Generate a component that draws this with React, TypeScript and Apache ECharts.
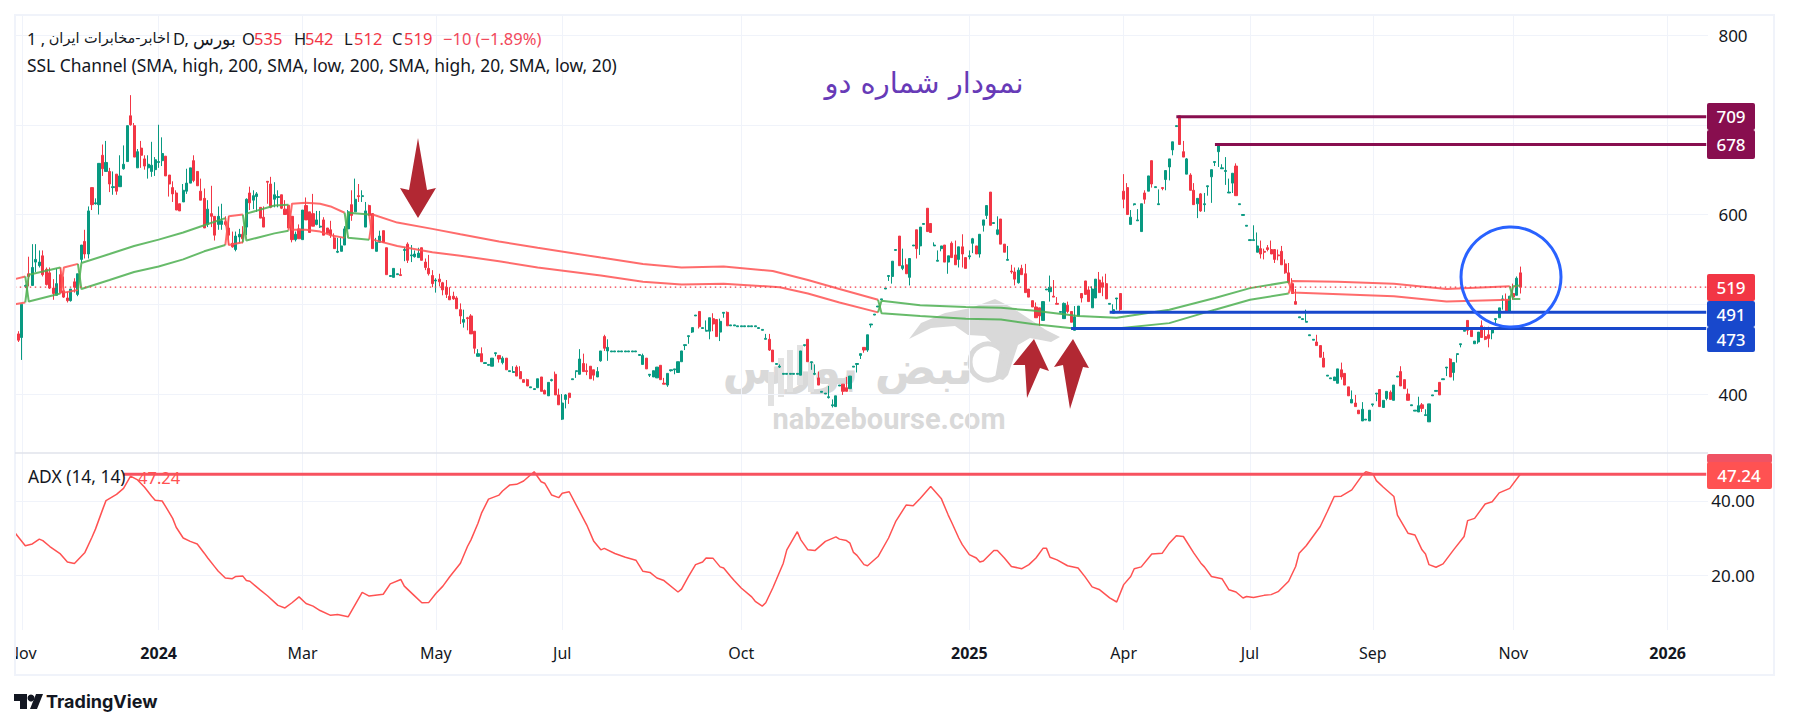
import { useEffect, useRef } from 'react'
import * as echarts from 'echarts'

const FONT = '"Noto Sans", sans-serif'
const UP = '#089981'
const DOWN = '#F23645'

// [open, close, low, high], one row per trading day
const candles: number[][] = [
  [426,450,426,450],[467,460,458,470],[463,500,438,500],[520,521,518,522],[534,531,520,553],[521,541,521,567],[547,550,536,567],[543,547,541,560],
  [554,533,531,560],[539,522,521,541],[535,518,517,541],[518,512,505,528],[510,523,510,540],[533,513,512,541],[515,508,507,531],[507,504,502,514],
  [504,517,503,517],[525,519,513,529],[511,534,509,534],[550,566,546,566],[570,556,551,583],[556,604,551,609],[630,611,605,630],[612,613,611,618],
  [611,657,600,657],[666,651,643,678],[648,658,648,682],[648,634,625,652],[630,631,622,648],[645,626,622,645],[631,643,631,666],[651,656,650,677],
  [659,699,659,699],[710,700,699,733],[699,664,664,702],[652,670,652,673],[674,666,652,682],[662,654,650,666],[652,656,640,666],[648,655,642,681],
  [650,661,643,664],[658,659,652,700],[660,668,654,686],[665,643,643,665],[644,634,620,644],[630,623,614,637],[624,605,605,627],[612,604,604,612],
  [614,627,614,634],[626,635,623,651],[635,652,635,652],[660,638,636,666],[648,632,632,648],[626,616,616,640],[618,585,585,629],[589,606,586,616],
  [601,598,586,632],[598,577,571,598],[589,598,583,609],[589,593,583,612],[592,589,587,598],[585,577,566,598],[568,564,563,581],[561,576,559,581],
  [575,578,568,584],[578,573,568,587],[586,617,577,618],[624,613,605,631],[616,621,606,627],[620,623,603,625],[608,596,596,608],[597,586,586,609],
  [637,636,612,637],[634,608,607,642],[617,622,608,636],
  [619,620,608,627],[622,607,606,622],[606,600,600,616],[610,585,585,610],[598,572,569,598],[572,578,570,581],[584,573,573,589],[572,605,572,605],
  [610,594,594,619],[603,580,580,603],[601,587,587,623],[589,594,588,604],[586,587,585,604],[594,577,577,597],[585,579,579,585],[583,577,574,593],
  [574,562,562,579],[558,559,557,574],[559,565,559,574],[566,584,566,587],[584,603,584,605],[611,599,593,627],[603,617,603,640],[621,620,614,634],
  [620,621,614,627],[586,604,586,614],[610,599,599,611],[601,562,562,601],[559,569,559,574],[569,576,569,582],[582,569,569,582],[563,533,533,563],
  [531,532,531,532],[530,540,530,540],[533,534,533,534],[533,532,532,540],[560,561,548,564],[567,549,546,569],[554,555,547,566],[553,556,552,560],
  [552,557,552,563],[563,549,549,563],[547,541,538,551],[540,534,532,555],[532,523,519,538],[526,527,513,529],[528,525,520,534],[524,516,510,525],
  [519,511,507,527],[509,505,505,519],[509,506,505,514],[507,495,495,509],[494,487,478,501],[480,483,474,494],[485,484,471,486],[487,467,467,489],
  [470,451,445,470],[442,445,442,450],[445,436,436,452],[434,435,434,435],[432,433,432,433],[431,440,431,440],[445,446,442,446],[443,439,435,443],
  [435,440,433,442],[440,427,427,440],[425,426,425,426],[424,425,424,431],[430,420,420,432],[425,417,417,431],[416,413,413,416],[416,409,409,417],
  [407,408,407,408],[405,406,405,406],[407,417,407,417],
  [419,403,403,419],[404,400,400,405],[398,413,398,413],[415,416,414,417],[422,399,399,425],[399,388,388,406],[372,390,371,400],[394,399,384,400],
  [401,396,389,401],[416,417,416,417],[425,426,418,426],[422,439,422,450],[434,425,425,445],[426,425,421,434],[431,417,417,431],[427,421,415,427],
  [419,425,419,430],[437,448,436,448],[464,451,448,466],[448,452,437,461],[447,448,447,448],[447,448,447,448],[447,448,447,448],[447,448,447,448],
  [447,448,447,448],[447,448,447,448],[447,448,447,448],[447,448,447,448],[443,444,443,444],[433,443,433,445],[440,428,428,440],[421,422,419,422],
  [419,426,419,426],[418,430,418,430],[432,416,416,432],[412,411,411,418],[410,423,408,423],[426,427,425,427],[427,428,422,428],[424,436,424,436],
  [436,448,436,448],[454,455,449,455],[464,465,456,465],[469,474,468,474],[487,488,487,488],[492,475,473,492],[473,474,473,474],[470,471,470,482],
  [470,485,461,485],[484,478,470,490],[483,464,464,483],[469,481,459,484],[490,491,485,491],[491,476,476,492],[476,477,476,477],[476,477,476,477],
  [475,476,475,476],[475,476,475,476],[475,476,475,476],[475,476,475,476],[475,476,475,476],[475,476,475,476],[473,474,473,474],[471,472,471,472],
  [461,462,461,467],[461,449,448,467],[449,436,436,449],[433,434,433,434],[430,431,429,433],[422,423,422,423],[422,423,422,423],[422,423,422,423],
  [422,423,422,423],[422,423,422,423],[421,448,421,448],
  [454,455,453,455],[461,436,436,461],[435,436,427,436],[422,423,421,433],[418,410,410,425],[402,403,402,403],[400,401,400,401],[396,397,395,409],
  [387,388,385,394],[386,398,386,398],[409,410,409,410],[411,403,399,411],[407,403,403,419],[406,420,406,420],[430,431,430,431],[433,434,424,434],
  [443,445,439,445],[452,449,446,452],[449,466,447,466],[477,478,474,478],[488,489,488,489],[497,498,497,498],[505,506,505,506],[517,518,517,518],
  [531,532,526,532],[531,548,523,548],[560,561,560,561],[576,543,543,576],[540,543,538,562],[544,534,534,551],[530,551,521,551],[565,566,565,566],
  [583,562,551,583],[565,586,555,586],[589,590,589,590],[607,581,581,607],[590,580,580,590],[565,566,565,569],[548,549,548,560],[562,565,559,565],
  [566,547,547,566],[547,554,534,554],[568,552,552,570],[555,544,544,571],[550,564,541,564],[564,556,541,578],[552,540,540,552],[553,554,550,560],
  [568,573,557,574],[565,556,556,565],[556,578,552,578],[588,594,581,594],[599,610,595,610],[625,588,588,625],[590,591,590,591],[578,583,577,598],
  [595,567,567,595],[567,558,558,567],[549,550,549,565],[537,536,534,544],[536,528,521,541],[524,538,523,541],[540,533,533,544],[534,513,513,545],
  [517,508,508,517],[504,497,497,504],[497,485,485,502],[496,487,476,496],[482,503,482,503],[516,517,516,517],[514,519,503,532],[509,508,508,527],
  [501,500,500,508],[491,492,491,492],
  [484,501,484,502],[499,492,490,503],[492,480,480,492],[471,486,471,498],[487,498,487,498],[512,507,502,512],[526,511,511,526],[516,503,503,520],
  [496,517,496,520],[507,528,507,528],[527,513,513,536],[524,519,509,531],[523,506,506,534],[500,501,500,501],[490,494,490,500],[506,507,494,507],
  [512,494,491,512],[626,617,607,645],[630,600,600,635],[589,597,589,605],[611,612,610,612],[593,594,593,606],[581,612,581,612],[624,617,612,627],
  [626,643,626,643],[660,634,630,660],[630,631,630,631],[611,612,611,628],[630,629,627,630],[639,649,627,649],[653,662,638,662],[672,681,666,681],
  [698,699,698,699],[710,678,678,710],[670,664,664,682],[645,662,645,663],[644,627,627,646],[627,611,611,635],[612,618,596,618],[623,604,603,624],
  [611,612,603,624],[631,632,621,632],[642,650,613,650],[658,659,654,659],[670,677,653,678],[651,652,651,656],[648,649,633,664],[624,625,624,640],
  [635,646,624,646],[654,621,621,657],[611,612,611,612],[599,600,599,600],[587,588,587,588],[571,572,571,572],[571,572,571,588],[558,565,558,580],
  [562,556,551,571],[559,558,550,562],[563,561,559,566],[561,556,556,571],[561,550,546,561],[555,554,549,561],[559,544,544,565],[545,535,534,550],
  [535,524,523,546],[523,512,512,529],[503,500,500,517],[485,486,485,486],[483,484,483,484],[480,481,480,494],[465,466,465,466],[460,461,460,461],
  [458,454,454,466],[454,441,441,454],[440,430,430,447],
  [420,421,420,421],[417,418,417,418],[415,419,415,419],[412,428,412,428],[427,419,416,435],[423,410,410,423],[408,398,398,408],[390,394,390,404],
  [390,386,386,399],[382,378,378,382],[370,383,370,391],[371,372,371,372],[370,382,370,382],[388,389,386,389],[400,401,392,401],[405,386,386,405],
  [385,393,385,393],[395,403,393,403],[402,394,394,404],[393,410,393,410],[419,420,419,420],[425,409,409,431],[416,406,406,416],[400,393,393,406],
  [387,388,387,388],[381,382,381,382],[380,387,380,397],[388,384,380,390],[376,377,376,383],[369,389,369,389],[398,399,398,399],[403,404,403,404],
  [413,399,399,413],[416,417,416,417],[429,430,420,430],[439,419,419,440],[424,435,415,435],[444,445,435,445],[455,456,452,456],[470,471,470,471],
  [482,471,466,482],[471,464,464,471],[456,459,456,459],[458,469,456,469],[476,463,463,482],[464,461,460,475],[466,462,452,475],[468,473,461,473],
  [483,484,479,484],[485,496,485,496],[505,506,494,510],[505,491,491,512],[491,509,491,509],[512,508,505,523],[510,529,510,531],[535,519,512,542],
]

const BAR_COUNT = 483 // bars plus the empty future space on the right
const categories = Array.from({ length: BAR_COUNT }, (_, i) => String(i))

const tickBars = [2, 41, 82, 120, 156, 207, 272, 316, 352, 387, 427, 471]
const tickLabels = ['Nov', '2024', 'Mar', 'May', 'Jul', 'Oct', '2025', 'Apr', 'Jul', 'Sep', 'Nov', '2026']

const priceGridValues = [400, 500, 600, 700, 800]
const priceLabelValues = [400, 600, 800]
const adxLabelValues = [20, 40]

// SSL channel, [bar, price]
const sslRed: number[][][] = [
  [[0,528],[3,531]],
  [[0,500],[3,502]],
  [[13,541],[14,513],[18,516]],
  [[13,512],[14,541],[18,545]],
  [[60,596],[61,566],[65,569]],
  [[60,566],[61,598],[65,600]],
  [[78,611],[79,583],[83,583],[87,581],[90,577],[94,574]],
  [[78,582],[79,612],[83,613],[87,612],[90,609],[94,602]],
  [[101,600],[102,572],[109,565],[119,558],[127,554],[138,548],[149,541],[167,532],[179,525],[190,522],[202,523],[218,519],[226,512],[235,502],[246,491]],
  [[101,572],[102,600],[109,591],[119,584],[127,578],[138,570],[149,563],[167,552],[179,545],[190,541],[202,542],[216,537],[226,527],[235,517],[246,505]],
  [[363,525],[364,513],[393,509],[408,503],[426,505]],
  [[363,512],[364,526],[377,525],[393,523],[408,517],[426,520]],
]
const sslGreen: number[][][] = [
  [[3,531],[4,503],[13,512]],
  [[3,502],[4,533],[13,541]],
  [[18,545],[19,517],[27,527],[34,536],[41,542],[48,550],[54,559],[60,566]],
  [[18,516],[19,546],[27,556],[34,565],[41,572],[48,580],[54,588],[60,596]],
  [[65,600],[66,571],[74,579],[78,582]],
  [[65,569],[66,601],[74,610],[78,611]],
  [[94,602],[95,574],[101,572]],
  [[94,574],[95,602],[101,600]],
  [[246,505],[247,490],[258,487],[271,484],[281,483],[290,478],[302,473],[314,473],[329,479],[342,494],[352,505],[363,512]],
  [[246,491],[247,504],[258,499],[271,497],[281,496],[290,493],[303,487],[314,485],[329,494],[342,507],[352,518],[363,525]],
  [[426,520],[427,506],[429,506]],
  [[426,505],[427,520],[429,521]],
]

const adxBars = [
  0,3,5,7,8,10,13,15,17,20,22,23,25,26,29,31,33,35,37,39,40,42,43,45,46,48,50,52,54,55,57,58,60,62,63,65,66,67,70,72,75,77,79,81,83,85,87,90,92,95,
  97,99,101,105,107,110,111,114,116,118,120,122,124,127,129,130,132,133,135,138,139,141,143,145,148,150,151,153,155,156,158,160,163,165,167,168,171,174,177,179,181,183,185,189,190,192,194,196,197,199,
  201,202,204,205,207,210,211,213,214,216,217,219,220,223,224,226,228,231,232,234,235,237,238,239,240,242,243,246,249,251,254,256,258,261,264,266,267,269,270,272,274,275,276,279,280,282,284,287,289,291,
  293,294,295,297,300,303,305,307,309,312,314,316,318,319,321,324,327,329,331,333,336,338,339,341,344,346,348,350,351,353,356,358,360,363,365,366,368,372,374,376,378,381,384,385,387,388,390,393,394,397,
  399,401,402,403,405,407,410,413,414,416,419,421,423,426,429,
]
const adxValues = [
  31.5,27.9,28.4,29.7,29.3,27.7,25.7,23.5,23.1,26.1,30.2,32.4,37.6,40.1,41.8,43.4,46.7,45.7,43.7,41.3,40.2,40,38.5,35.3,32.9,30,29.1,28.4,25.9,24.6,22.2,21,19.2,19,19.6,19.7,18.5,18.3,15.9,14.4,11.8,11.1,12.5,14.1,12.3,11.6,10.4,9.1,9.3,8.7,
  12,15.3,14.3,14.8,17.6,18.8,17,14.3,12.5,12.6,15,17,19.6,23.2,27.7,29.5,34,36.7,40.5,41.6,42.7,44.3,44.5,45.4,47.9,45.2,44.8,41.6,40.9,42.1,42.5,38.9,33.5,29.1,26.8,27.2,25.8,24.8,24,21,20.7,19.2,18.5,15.4,16.2,19.6,22.8,23.5,24.6,24.5,
  22.2,21.9,19.6,18.5,16.5,14.1,12.9,11.6,12.5,16.5,18.7,23.2,26.8,31.7,29.5,26.8,26.6,29.1,29.5,30.3,29.7,29.3,28.6,26.1,25.3,22.8,22.5,25,30,34.4,38.9,38.7,40.7,43.9,40.7,36.2,34.2,30,28.2,25.5,24.6,23.5,23.8,26.6,26.6,24.6,22.3,21.7,22.8,24.6,
  27.2,27.2,24.8,24.1,22.5,21.9,19.5,16.8,16.1,13.8,12.7,17.4,19.6,21.7,22.2,25.7,25.9,28.6,30.6,30.4,25.9,23.2,22.2,19.6,19,16,15.4,13.8,14.2,13.9,14.5,14.7,15.5,18.3,22.3,25.9,27.9,33.1,37.1,41.2,41.3,43,47,47.9,47.4,45.5,43.7,41.2,36.2,31.3,
  30.8,26.8,25.7,22.8,22.1,23,26.8,30.4,34.7,35.3,39.2,39.8,42.2,43.4,47.24,
]

// horizontal levels: [first bar, price]
const maroonLevels = [[331, 709], [342, 678]]
const blueLevels = [[312, 491], [301, 473]]
const adxLevel = [31, 47.24]
const lastClose = 519

const priceTags = [
  { text: '709', top: 103, height: 27, color: '#880E4F' },
  { text: '678', top: 130, height: 29, color: '#880E4F' },
  { text: '519', top: 274, height: 27, color: '#F23645' },
  { text: '491', top: 301, height: 26, color: '#1848CC' },
  { text: '473', top: 327, height: 25, color: '#1848CC' },
]

const legendPieces = [
  { text: '1 ,', x: 27, color: '#131722' },
  { text: 'D,', x: 173, color: '#131722' },
  { text: 'بورس', x: 193, color: '#131722' },
  { text: 'O', x: 242, color: '#131722' },
  { text: '535', x: 254, color: DOWN },
  { text: 'H', x: 294, color: '#131722' },
  { text: '542', x: 305, color: DOWN },
  { text: 'L', x: 344, color: '#131722' },
  { text: '512', x: 354, color: DOWN },
  { text: 'C', x: 392, color: '#131722' },
  { text: '519', x: 404, color: DOWN },
  { text: '−10 (−1.89%)', x: 443, color: '#F2495C' },
]

// watermark bars behind the chart: [x, top, bottom]
const watermarkBars = [[771, 372, 406], [781, 358, 397], [790, 350, 392], [800, 345, 385], [811, 362, 392]]

const bullOutline = [
  [909,339],[921,323],[945,313],[971,308],[995,299],[1011,307],[1031,320],[1046,330],[1060,337],[1051,342],[1030,338],[1018,345],[1008,375],
  [1003,380],[995,378],[1000,350],[985,336],[968,335],[955,326],[931,328],
]

const arrows = [
  [[418,138],[427,190],[436,188],[418,218],[400,188],[409,190]],
  [[1034,339],[1049,371],[1040,368],[1027,398],[1025,365],[1013,365]],
  [[1073,339],[1089,368],[1083,367],[1070,409],[1063,365],[1054,367]],
]

function levelSeries(first: number[], color: string, xAxisIndex: number, yAxisIndex: number) {
  return {
    type: 'line',
    xAxisIndex,
    yAxisIndex,
    symbol: 'none',
    z: 6,
    silent: true,
    lineStyle: { color, width: 3 },
    data: [first, [BAR_COUNT - 1, first[1]]],
  }
}

function sslSeries(points: number[][], color: string) {
  return {
    type: 'line',
    xAxisIndex: 0,
    yAxisIndex: 0,
    symbol: 'none',
    z: 4,
    silent: true,
    lineStyle: { color, width: 2, opacity: 0.85 },
    data: points,
  }
}

function buildGraphics() {
  const text = (style: any, z = 40) => ({ type: 'text', z, silent: true, style: { fontFamily: FONT, ...style } })
  const els: any[] = [
    { type: 'rect', z: 30, silent: true, shape: { x: 0, y: 0, width: 14, height: 728 }, style: { fill: '#fff' } },
    { type: 'rect', z: 31, silent: true, shape: { x: 15, y: 15, width: 1759, height: 660 }, style: { fill: 'none', stroke: '#F0F3FA', lineWidth: 2 } },
    { type: 'line', z: 31, silent: true, shape: { x1: 15, y1: 453, x2: 1708, y2: 453 }, style: { stroke: '#E0E3EB', lineWidth: 1.5 } },
    { type: 'polygon', z: 0, silent: true, shape: { points: bullOutline }, style: { fill: '#D9D9D9' } },
    { type: 'circle', z: 0, silent: true, shape: { cx: 988, cy: 362, r: 18 }, style: { fill: 'none', stroke: '#D9D9D9', lineWidth: 5 } },
    text({ x: 848, y: 368, text: 'نبض بورس', fontSize: 46, fontWeight: 'bold', fill: '#D9D9D9', align: 'center', verticalAlign: 'middle', fontFamily: '"DejaVu Sans"' }, 0),
    text({ x: 889, y: 419, text: 'nabzebourse.com', fontSize: 29, fontWeight: 'bold', fill: '#D9D9D9', align: 'center', verticalAlign: 'middle', fontFamily: 'Roboto' }, 0),
    text({ x: 924, y: 83, text: 'نمودار شماره دو', fontSize: 29, fill: '#673AB7', align: 'center', verticalAlign: 'middle', fontFamily: '"DejaVu Sans"' }),
    text({ x: 27, y: 65, text: 'SSL Channel (SMA, high, 200, SMA, low, 200, SMA, high, 20, SMA, low, 20)', fontSize: 17.4, fill: '#131722', verticalAlign: 'middle' }),
    text({ x: 170, y: 38, text: 'اخابر-مخابرات ایران', fontSize: 14.5, fill: '#131722', align: 'right', verticalAlign: 'middle', fontFamily: '"DejaVu Sans"' }),
    text({ x: 28, y: 476, text: 'ADX (14, 14)', fontSize: 17.4, fill: '#131722', verticalAlign: 'middle' }),
    text({ x: 138, y: 477, text: '47.24', fontSize: 16.5, fill: '#FF5252', verticalAlign: 'middle' }),
    { type: 'circle', z: 41, silent: true, shape: { cx: 1511, cy: 277, r: 50 }, style: { fill: 'none', stroke: '#2962FF', lineWidth: 3 } },
    { type: 'rect', z: 42, silent: true, shape: { x: 1707, y: 454, width: 65, height: 9, r: 2 }, style: { fill: '#F05364' } },
    { type: 'rect', z: 43, silent: true, shape: { x: 1707, y: 462, width: 65, height: 27, r: 2 }, style: { fill: '#FF5252' } },
    text({ x: 1739, y: 475, text: '47.24', fontSize: 17, fontWeight: 500, fill: '#fff', align: 'center', verticalAlign: 'middle' }, 44),
    text({ x: 46, y: 701, text: 'TradingView', fontSize: 18, fontWeight: 'bold', fill: '#131722', verticalAlign: 'middle', fontFamily: 'Inter' }),
    { type: 'polygon', z: 40, silent: true, shape: { points: [[14,694],[27,694],[27,709],[20,709],[20,701],[14,701]] }, style: { fill: '#131722' } },
    { type: 'circle', z: 40, silent: true, shape: { cx: 31, cy: 698, r: 3.5 }, style: { fill: '#131722' } },
    { type: 'polygon', z: 40, silent: true, shape: { points: [[36,694],[43,694],[37,709],[30,709]] }, style: { fill: '#131722' } },
  ]
  watermarkBars.forEach(([x, top, bottom]) => {
    els.push({ type: 'rect', z: 0, silent: true, shape: { x: x - 3, y: top, width: 6, height: bottom - top }, style: { fill: '#E2E2E2' } })
  })
  arrows.forEach((points) => {
    els.push({ type: 'polygon', z: 35, silent: true, shape: { points }, style: { fill: '#B22833' } })
  })
  legendPieces.forEach((p) => {
    els.push(text({ x: p.x, y: 38, text: p.text, fontSize: 16.5, fill: p.color, verticalAlign: 'middle' }))
  })
  priceTags.forEach((t) => {
    els.push({ type: 'rect', z: 42, silent: true, shape: { x: 1707, y: t.top, width: 48, height: t.height, r: 2 }, style: { fill: t.color } })
    els.push(text({ x: 1731, y: t.top + t.height / 2, text: t.text, fontSize: 17, fontWeight: 500, fill: '#fff', align: 'center', verticalAlign: 'middle' }, 44))
  })
  return els
}

export default function App() {
  const chartRef = useRef<HTMLDivElement>(null)

  useEffect(() => {
    if (!chartRef.current) return
    document.body.style.margin = '0'
    const instance = echarts.init(chartRef.current, undefined, { renderer: 'svg' })
    const tickSet = new Set(tickBars)
    const gridLine = { show: true, interval: (i: number) => tickSet.has(i), alignWithLabel: true, lineStyle: { color: '#F0F3FA', width: 1 } }

    instance.setOption({
      animation: false,
      backgroundColor: '#fff',
      grid: [
        { left: 13, top: 15, width: 1695, height: 438 },
        { left: 13, top: 453, width: 1695, height: 177 },
      ],
      xAxis: [
        {
          type: 'category',
          gridIndex: 0,
          data: categories,
          axisLine: { show: false },
          axisTick: { show: false, alignWithLabel: true },
          axisLabel: { show: false },
          splitLine: gridLine,
        },
        {
          type: 'category',
          gridIndex: 1,
          data: categories,
          axisLine: { show: false },
          axisTick: { show: false, alignWithLabel: true },
          splitLine: gridLine,
          axisLabel: {
            interval: (i: number) => tickSet.has(i),
            margin: 15,
            fontFamily: FONT,
            fontSize: 16,
            color: '#131722',
            hideOverlap: false,
            formatter: (_: string, i: number) => {
              const label = tickLabels[tickBars.indexOf(i)] ?? ''
              return /^\d+$/.test(label) ? `{year|${label}}` : label
            },
            rich: { year: { fontWeight: 'bold', fontSize: 16, fontFamily: FONT, color: '#131722' } },
          },
        },
      ],
      yAxis: [
        {
          type: 'value',
          gridIndex: 0,
          position: 'right',
          min: 334.3,
          max: 822.3,
          axisLine: { show: false },
          axisTick: { show: false, customValues: priceGridValues },
          axisLabel: { customValues: priceLabelValues, margin: 25, align: 'center', fontFamily: FONT, fontSize: 17, color: '#131722' },
          splitLine: { show: true, lineStyle: { color: '#F0F3FA', width: 1 } },
        },
        {
          type: 'value',
          gridIndex: 1,
          position: 'right',
          min: 5.14,
          max: 52.97,
          axisLine: { show: false },
          axisTick: { show: false, customValues: adxLabelValues },
          axisLabel: { customValues: adxLabelValues, margin: 25, align: 'center', fontFamily: FONT, fontSize: 17, color: '#131722', formatter: (v: number) => v.toFixed(2) },
          splitLine: { show: true, lineStyle: { color: '#F0F3FA', width: 1 } },
        },
      ],
      series: [
        {
          type: 'candlestick',
          xAxisIndex: 0,
          yAxisIndex: 0,
          barWidth: 2.6,
          z: 3,
          silent: true,
          itemStyle: { color: UP, color0: DOWN, borderColor: UP, borderColor0: DOWN, borderWidth: 1 },
          data: candles,
        },
        ...sslRed.map((points) => sslSeries(points, '#FF5252')),
        ...sslGreen.map((points) => sslSeries(points, '#4CAF50')),
        {
          type: 'line',
          xAxisIndex: 0,
          yAxisIndex: 0,
          symbol: 'none',
          z: 4,
          silent: true,
          lineStyle: { color: DOWN, width: 1.2, type: [1.5, 3.5] },
          data: [[0, lastClose], [BAR_COUNT - 1, lastClose]],
        },
        ...maroonLevels.map((l) => levelSeries(l, '#880E4F', 0, 0)),
        ...blueLevels.map((l) => levelSeries(l, '#1848CC', 0, 0)),
        levelSeries(adxLevel, '#F7525F', 1, 1),
        {
          type: 'line',
          xAxisIndex: 1,
          yAxisIndex: 1,
          symbol: 'none',
          z: 4,
          silent: true,
          lineStyle: { color: '#FF5252', width: 1.5 },
          data: adxBars.map((bar, i) => [bar, adxValues[i]]),
        },
      ],
      graphic: { elements: buildGraphics() },
    })
    return () => instance.dispose()
  }, [])

  return <div ref={chartRef} style={{ width: 1800, height: 728 }} />
}
